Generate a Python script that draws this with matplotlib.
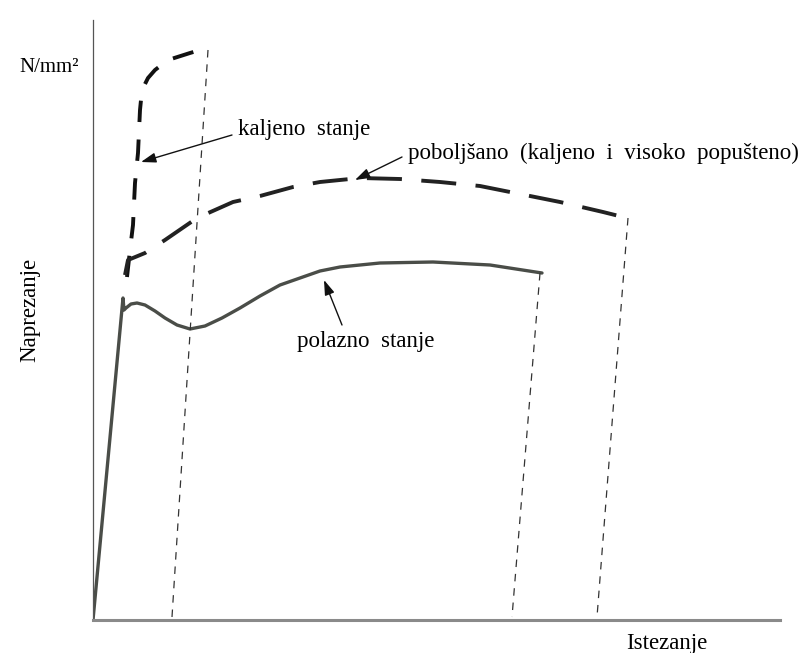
import matplotlib
matplotlib.use('Agg')
import matplotlib.pyplot as plt

# curves (x: elongation, y: stress, arbitrary units)
polazno_x = [0, 30, 31, 33, 38, 44, 52, 62, 72, 84, 97, 112, 129, 147, 167, 187, 207,
             227, 247, 287, 340, 397, 449]
polazno_y = [0, 322, 310, 312, 316, 317, 315, 309, 302, 295, 291, 294, 302, 312, 324,
             335, 342, 349, 353, 357, 358, 355, 347]

kaljeno_x = [34, 37, 40, 42, 45, 47, 49, 55, 62, 75, 97, 117]
kaljeno_y = [343, 370, 395, 437, 467, 510, 530, 542, 550, 560, 567, 573]

poboljsano_x = [32, 35, 52, 72, 104, 140, 167, 200, 227, 267, 307, 347, 387, 427, 467,
                510, 534]
poboljsano_y = [345, 360, 367, 380, 402, 418, 424, 433, 438, 442, 441, 438, 434, 426,
                418, 408, 402]

# fracture drop lines (top point, bottom point)
drop_x = [[115, 79], [447, 419], [535, 504]]
drop_y = [[570, 3], [347, 3], [402, 3]]

fig = plt.figure(figsize=(8, 6.53), dpi=100)
ax = fig.add_axes([93 / 800, 33 / 653, 687 / 800, 600 / 653])
ax.set_xlim(0, 687)
ax.set_ylim(0, 600)
ax.set_xticks([])
ax.set_yticks([])
for s in ['top', 'right']:
    ax.spines[s].set_visible(False)
ax.spines['left'].set_linewidth(0.9)
ax.spines['left'].set_color('#555555')
ax.spines['bottom'].set_linewidth(2.2)
ax.spines['bottom'].set_color('#8a8a8a')

ax.plot(polazno_x, polazno_y, color='#4a4d48', lw=2.4, solid_capstyle='round',
        solid_joinstyle='round')
ax.plot(kaljeno_x, kaljeno_y, color='#111111', lw=2.8, dashes=(5.5, 4.5),
        dash_capstyle='butt')
ax.plot(poboljsano_x, poboljsano_y, color='#222222', lw=2.8, dashes=(9, 5))

for dx, dy in zip(drop_x, drop_y):
    ax.plot(dx, dy, color='#333333', lw=0.9, dashes=(6, 5.5))

font = 'Liberation Serif'
fs = 16.5
arrow = dict(arrowstyle='-|>,head_length=0.9,head_width=0.3', color='#111111',
             lw=1.0, shrinkA=0, shrinkB=0)

ax.text(145, 490, 'kaljeno  stanje', fontsize=fs, family=font, va='center',
        ha='left')
ax.annotate('', xy=(48, 458), xytext=(139, 485), arrowprops=arrow)
ax.text(315, 467, 'poboljšano  (kaljeno  i  visoko  popušteno)', fontsize=fs,
        family=font, va='center', ha='left')
ax.annotate('', xy=(262, 440), xytext=(309, 463), arrowprops=arrow)
ax.text(204, 279, 'polazno  stanje', fontsize=fs, family=font, va='center',
        ha='left')
ax.annotate('', xy=(231, 340), xytext=(249, 295), arrowprops=arrow)

fig.text(79 / 800, 1 - 67 / 653, 'N/mm²', fontsize=15, family=font,
         va='center', ha='right')
fig.text(30 / 800, 1 - 310 / 653, 'Naprezanje', fontsize=fs, family=font,
         va='center', ha='center', rotation=90)
fig.text(667 / 800, 1 - 643 / 653, 'Istezanje', fontsize=fs, family=font,
         va='center', ha='center')

fig.savefig('out.png', dpi=100)
